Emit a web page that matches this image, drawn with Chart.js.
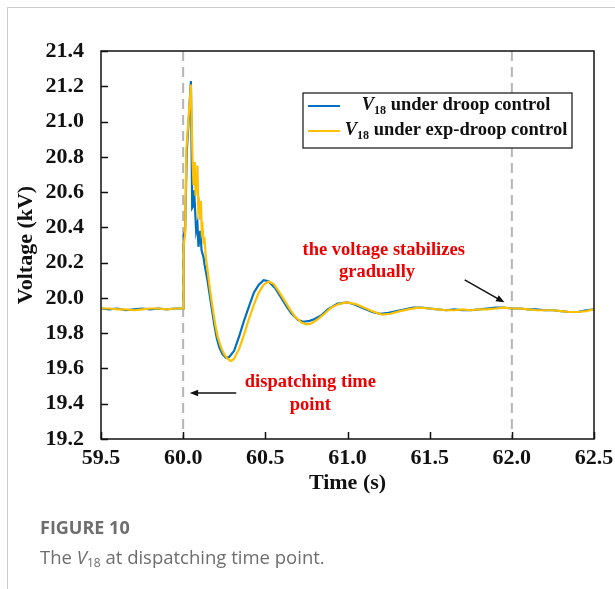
<!DOCTYPE html>
<html>
<head>
<meta charset="utf-8">
<script src="https://cdn.jsdelivr.net/npm/chart.js@4.4.0/dist/chart.umd.min.js"></script>
<style>
  html, body { margin: 0; padding: 0; background: #fff; }
  #wrap { position: relative; width: 615px; height: 589px; overflow: hidden; background: #fff; }
  #c { position: absolute; left: 0; top: 0; }
  .rule-h { position: absolute; left: 7px; top: 7px; width: 608px; height: 1px; background: #cccccc; }
  .rule-v { position: absolute; left: 7px; top: 7px; width: 1px; height: 582px; background: #cccccc; }
  .cap { position: absolute; left: 40px; font-family: "Open Sans", "Noto Sans", sans-serif; color: #6e6e6e; line-height: 22px; white-space: nowrap; }
  .cap.title { top: 516px; font-size: 18px; font-weight: 700; }
  .cap.desc { top: 546px; font-size: 18.5px; }
  .cap sub { font-size: 12px; vertical-align: -3px; line-height: 0; }
</style>
</head>
<body>
<div id="wrap">
  <canvas id="c" width="615" height="589"></canvas>
  <div class="rule-h"></div>
  <div class="rule-v"></div>
  <div class="cap title">FIGURE 10</div>
  <div class="cap desc">The <i>V</i><sub>18</sub> at dispatching time point.</div>
</div>
<script>
// V18 under droop control (blue)
const droopTime = [
  59.50, 59.55, 59.60, 59.65, 59.70, 59.75, 59.80, 59.85, 59.90, 59.95, 59.995,
  60.000, 60.003, 60.012, 60.022, 60.035, 60.047, 60.055, 60.061, 60.067, 60.073,
  60.079, 60.087, 60.093, 60.104, 60.112, 60.124, 60.130, 60.148, 60.169, 60.189,
  60.205, 60.22, 60.24, 60.26, 60.28, 60.31, 60.34, 60.37, 60.40, 60.43,
  60.46, 60.49, 60.52, 60.56, 60.60, 60.63, 60.66, 60.70, 60.73, 60.77,
  60.80, 60.84, 60.88, 60.94, 61.00, 61.05, 61.10, 61.15, 61.20, 61.25,
  61.30, 61.35, 61.40, 61.45, 61.50, 61.55, 61.60, 61.65, 61.70, 61.75,
  61.80, 61.85, 61.90, 61.95, 62.00, 62.05, 62.10, 62.15, 62.20, 62.25,
  62.30, 62.35, 62.40, 62.45, 62.50
];
const droopVolt = [
  19.94, 19.935, 19.94, 19.93, 19.935, 19.94, 19.935, 19.94, 19.935, 19.94, 19.94,
  19.94, 20.35, 20.38, 20.83, 21.03, 21.23, 20.51, 20.52, 20.61, 20.49,
  20.38, 20.42, 20.29, 20.38, 20.27, 20.23, 20.19, 20.10, 19.97, 19.85,
  19.77, 19.72, 19.68, 19.66, 19.665, 19.70, 19.78, 19.87, 19.95, 20.03,
  20.075, 20.10, 20.095, 20.055, 19.995, 19.95, 19.91, 19.875, 19.865, 19.87,
  19.88, 19.90, 19.935, 19.968, 19.975, 19.96, 19.94, 19.92, 19.91, 19.915,
  19.925, 19.935, 19.945, 19.945, 19.94, 19.935, 19.93, 19.935, 19.93, 19.93,
  19.935, 19.94, 19.945, 19.945, 19.94, 19.94, 19.935, 19.935, 19.93, 19.93,
  19.925, 19.92, 19.92, 19.93, 19.935
];

// V18 under exp-droop control (orange)
const expTime = [
  59.50, 59.55, 59.60, 59.65, 59.70, 59.75, 59.80, 59.85, 59.90, 59.95, 59.995,
  60.000, 60.003, 60.012, 60.020, 60.035, 60.047, 60.057, 60.063, 60.067, 60.071,
  60.075, 60.079, 60.083, 60.087, 60.092, 60.098, 60.103, 60.108, 60.113, 60.118,
  60.124, 60.130, 60.138, 60.148, 60.160, 60.175, 60.195, 60.21, 60.23, 60.25,
  60.27, 60.29, 60.31, 60.34, 60.37, 60.40, 60.43, 60.46, 60.49, 60.52,
  60.55, 60.58, 60.62, 60.65, 60.68, 60.72, 60.75, 60.78, 60.82, 60.86,
  60.90, 60.95, 61.00, 61.05, 61.10, 61.15, 61.21, 61.26, 61.32, 61.37,
  61.43, 61.50, 61.55, 61.60, 61.65, 61.70, 61.75, 61.80, 61.85, 61.90,
  61.95, 62.00, 62.05, 62.10, 62.15, 62.20, 62.25, 62.30, 62.35, 62.40,
  62.45, 62.50
];
const expVolt = [
  19.94, 19.94, 19.935, 19.935, 19.93, 19.935, 19.94, 19.94, 19.935, 19.94, 19.94,
  19.94, 20.30, 20.36, 20.85, 21.05, 21.21, 20.79, 20.64, 20.77, 20.73,
  20.58, 20.70, 20.62, 20.75, 20.50, 20.53, 20.45, 20.55, 20.38, 20.40,
  20.32, 20.33, 20.23, 20.16, 20.07, 19.97, 19.85, 19.78, 19.72, 19.68,
  19.655, 19.642, 19.655, 19.71, 19.79, 19.88, 19.96, 20.03, 20.075, 20.093,
  20.08, 20.04, 19.98, 19.935, 19.895, 19.86, 19.85, 19.855, 19.88, 19.91,
  19.945, 19.967, 19.975, 19.965, 19.945, 19.925, 19.905, 19.91, 19.925, 19.935,
  19.945, 19.94, 19.935, 19.93, 19.93, 19.935, 19.93, 19.935, 19.935, 19.94,
  19.945, 19.94, 19.94, 19.935, 19.93, 19.93, 19.93, 19.925, 19.92, 19.92,
  19.925, 19.935
];

const xMin = 59.5, xMax = 62.5, xStep = 0.5;
const yMin = 19.2, yMax = 21.4, yStep = 0.2;
const dashTimes = [60.0, 62.0];
const legendLabels = ['under droop control', 'under exp-droop control'];

const BLUE = '#0070c0';
const ORANGE = '#ffc000';
const RED = '#ee0000';
const SERIF = '"Liberation Serif", "Times New Roman", serif';

function toPoints(ts, vs) {
  return ts.map((t, i) => ({ x: t, y: vs[i] }));
}

function arrow(ctx, x1, y1, x2, y2) {
  const ang = Math.atan2(y2 - y1, x2 - x1);
  const head = 9;
  ctx.beginPath();
  ctx.moveTo(x1, y1);
  ctx.lineTo(x2 - Math.cos(ang) * head * 0.8, y2 - Math.sin(ang) * head * 0.8);
  ctx.stroke();
  ctx.beginPath();
  ctx.moveTo(x2, y2);
  ctx.lineTo(x2 - head * Math.cos(ang - 0.38), y2 - head * Math.sin(ang - 0.38));
  ctx.lineTo(x2 - head * Math.cos(ang + 0.38), y2 - head * Math.sin(ang + 0.38));
  ctx.closePath();
  ctx.fill();
}

// V with subscript 18, then the rest of the label
function drawVLabel(ctx, text, cx, cy) {
  const big = 'bold 18.5px ' + SERIF;
  const itl = 'italic bold 18.5px ' + SERIF;
  const small = 'bold 12px ' + SERIF;
  ctx.font = itl; const wV = ctx.measureText('V').width;
  ctx.font = small; const wS = ctx.measureText('18').width;
  ctx.font = big; const wT = ctx.measureText(' ' + text).width;
  let x = cx - (wV + wS + wT) / 2;
  ctx.textBaseline = 'middle';
  ctx.textAlign = 'left';
  ctx.font = itl; ctx.fillText('V', x, cy); x += wV;
  ctx.font = small; ctx.fillText('18', x, cy + 5); x += wS;
  ctx.font = big; ctx.fillText(' ' + text, x, cy);
}

const overlay = {
  id: 'overlay',
  beforeDatasetsDraw(chart) {
    const { ctx, chartArea: a, scales: { x } } = chart;
    ctx.save();
    ctx.strokeStyle = '#b5b5b5';
    ctx.lineWidth = 2;
    ctx.setLineDash([10, 6]);
    dashTimes.forEach(t => {
      const px = x.getPixelForValue(t);
      ctx.beginPath();
      ctx.moveTo(px, a.top);
      ctx.lineTo(px, a.bottom);
      ctx.stroke();
    });
    ctx.restore();
  },
  afterDatasetsDraw(chart) {
    const { ctx, chartArea: a, scales: { x, y } } = chart;
    ctx.save();

    // frame and inward ticks
    ctx.strokeStyle = '#111';
    ctx.lineWidth = 1.5;
    ctx.strokeRect(a.left, a.top, a.right - a.left, a.bottom - a.top);
    ctx.beginPath();
    y.ticks.forEach(tk => {
      const py = Math.round(y.getPixelForValue(tk.value)) + 0.5;
      ctx.moveTo(a.left, py); ctx.lineTo(a.left + 7, py);
    });
    x.ticks.forEach(tk => {
      const px = Math.round(x.getPixelForValue(tk.value)) + 0.5;
      ctx.moveTo(px, a.bottom); ctx.lineTo(px, a.bottom - 7);
    });
    ctx.stroke();

    // legend box
    const bx = a.left + 202, by = a.top + 42, bw = 269, bh = 55;
    ctx.fillStyle = '#fff';
    ctx.fillRect(bx, by, bw, bh);
    ctx.strokeStyle = '#222';
    ctx.lineWidth = 1.3;
    ctx.strokeRect(bx, by, bw, bh);
    [[BLUE, 13], [ORANGE, 38]].forEach(([col, dy], i) => {
      ctx.strokeStyle = col;
      ctx.lineWidth = 2;
      ctx.beginPath();
      ctx.moveTo(bx + 5, by + dy);
      ctx.lineTo(bx + 37, by + dy);
      ctx.stroke();
      ctx.fillStyle = '#111';
      drawVLabel(ctx, legendLabels[i], bx + 153, by + dy - 0.5);
    });

    // annotations
    ctx.fillStyle = RED;
    ctx.font = 'bold 18.5px ' + SERIF;
    ctx.textAlign = 'center';
    ctx.textBaseline = 'middle';
    ctx.fillText('the voltage stabilizes', x.getPixelForValue(61.22), y.getPixelForValue(20.272));
    ctx.fillText('gradually', x.getPixelForValue(61.18), y.getPixelForValue(20.147));
    ctx.fillText('dispatching time', x.getPixelForValue(60.774), y.getPixelForValue(19.524));
    ctx.fillText('point', x.getPixelForValue(60.774), y.getPixelForValue(19.393));

    ctx.strokeStyle = '#111';
    ctx.fillStyle = '#111';
    ctx.lineWidth = 1.5;
    arrow(ctx, x.getPixelForValue(61.713), y.getPixelForValue(20.102),
               x.getPixelForValue(61.955), y.getPixelForValue(19.975));
    arrow(ctx, x.getPixelForValue(60.323), y.getPixelForValue(19.461),
               x.getPixelForValue(60.04), y.getPixelForValue(19.461));
    ctx.restore();
  }
};

new Chart(document.getElementById('c'), {
  type: 'line',
  data: {
    datasets: [
      {
        label: 'V18 under droop control',
        data: toPoints(droopTime, droopVolt),
        borderColor: BLUE,
        borderWidth: 2.2,
        pointRadius: 0,
        tension: 0,
        order: 1
      },
      {
        label: 'V18 under exp-droop control',
        data: toPoints(expTime, expVolt),
        borderColor: ORANGE,
        borderWidth: 2.2,
        pointRadius: 0,
        tension: 0,
        order: 0
      }
    ]
  },
  options: {
    responsive: false,
    animation: false,
    layout: { padding: { left: 0, right: 21, top: 51, bottom: 80 } },
    plugins: {
      legend: { display: false },
      tooltip: { enabled: false }
    },
    scales: {
      x: {
        type: 'linear',
        min: xMin,
        max: xMax,
        afterFit: s => { s.height = 70; s.paddingLeft = 0; s.paddingRight = 0; },
        grid: { display: false, drawTicks: false },
        border: { display: false },
        ticks: {
          stepSize: xStep,
          padding: 6,
          color: '#111',
          font: { family: SERIF, size: 22, weight: 'bold' },
          callback: v => v.toFixed(1),
          maxRotation: 0
        },
        title: {
          display: true,
          text: 'Time (s)',
          color: '#111',
          font: { family: SERIF, size: 22, weight: 'bold' },
          padding: { top: 0, bottom: 12 }
        }
      },
      y: {
        min: yMin,
        max: yMax,
        afterFit: s => { s.width = 101; },
        grid: { display: false, drawTicks: false },
        border: { display: false },
        ticks: {
          stepSize: yStep,
          padding: 17,
          color: '#111',
          font: { family: SERIF, size: 22, weight: 'bold' },
          callback: v => v.toFixed(1)
        },
        title: {
          display: true,
          text: 'Voltage (kV)',
          color: '#111',
          font: { family: SERIF, size: 22, weight: 'bold' },
          padding: { top: 13, bottom: 0 }
        }
      }
    }
  },
  plugins: [overlay]
});
</script>
</body>
</html>
